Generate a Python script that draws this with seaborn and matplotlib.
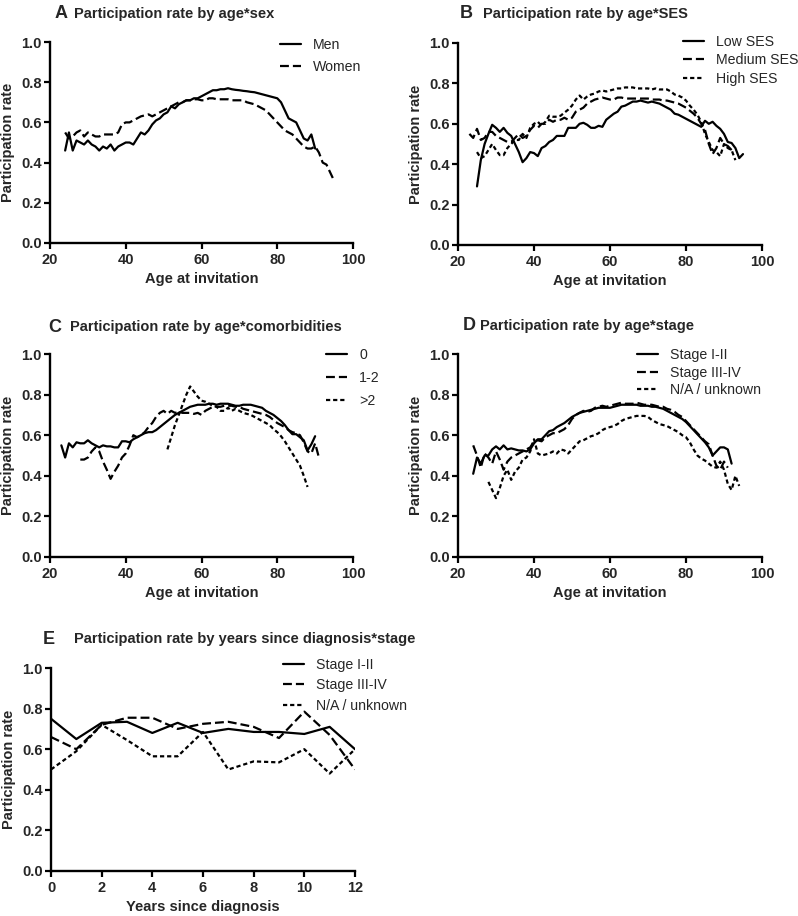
import matplotlib
matplotlib.use('Agg')
import matplotlib.pyplot as plt
import seaborn as sns
import pandas as pd

# Panel A: age * sex
age_men = list(range(24, 91))
rate_men = [0.46, 0.55, 0.46, 0.51, 0.50, 0.49, 0.51, 0.49, 0.48, 0.46, 0.48, 0.47, 0.49, 0.46, 0.48,
            0.49, 0.50, 0.50, 0.49, 0.52, 0.55, 0.54, 0.56, 0.59, 0.61, 0.62, 0.64, 0.65, 0.68, 0.67,
            0.69, 0.70, 0.71, 0.71, 0.72, 0.72, 0.73, 0.74, 0.75, 0.76, 0.76, 0.765, 0.765, 0.77, 0.765,
            0.762, 0.76, 0.757, 0.755, 0.752, 0.75, 0.745, 0.74, 0.735, 0.73, 0.725, 0.72, 0.70, 0.66,
            0.62, 0.61, 0.60, 0.56, 0.52, 0.51, 0.54, 0.47]
age_women = list(range(24, 96))
rate_women = [0.55, 0.52, 0.53, 0.55, 0.56, 0.53, 0.55, 0.54, 0.53, 0.53, 0.54, 0.54, 0.54, 0.54, 0.55,
              0.59, 0.60, 0.60, 0.61, 0.62, 0.63, 0.635, 0.64, 0.63, 0.64, 0.65, 0.66, 0.67, 0.68, 0.69,
              0.70, 0.70, 0.71, 0.71, 0.715, 0.715, 0.71, 0.71, 0.72, 0.72, 0.715, 0.715, 0.715, 0.715,
              0.71, 0.71, 0.71, 0.71, 0.70, 0.695, 0.69, 0.68, 0.67, 0.66, 0.64, 0.62, 0.60, 0.58, 0.56,
              0.55, 0.54, 0.52, 0.50, 0.48, 0.47, 0.47, 0.48, 0.45, 0.40, 0.39, 0.35, 0.31]

# Panel B: age * SES
age_low = list(range(25, 96))
rate_low = [0.29, 0.42, 0.50, 0.55, 0.595, 0.58, 0.56, 0.58, 0.555, 0.54, 0.50, 0.46, 0.41, 0.43, 0.46,
            0.455, 0.44, 0.48, 0.49, 0.51, 0.52, 0.54, 0.54, 0.54, 0.58, 0.58, 0.58, 0.60, 0.605, 0.595,
            0.58, 0.58, 0.59, 0.585, 0.62, 0.635, 0.65, 0.66, 0.685, 0.69, 0.70, 0.71, 0.71, 0.715, 0.71,
            0.705, 0.71, 0.705, 0.70, 0.69, 0.68, 0.67, 0.65, 0.645, 0.635, 0.625, 0.615, 0.605, 0.595,
            0.585, 0.615, 0.60, 0.61, 0.59, 0.575, 0.55, 0.51, 0.505, 0.48, 0.43, 0.45]
age_med = list(range(23, 93))
rate_med = [0.55, 0.53, 0.575, 0.52, 0.53, 0.56, 0.56, 0.54, 0.53, 0.52, 0.51, 0.51, 0.53, 0.55, 0.53,
            0.54, 0.57, 0.59, 0.58, 0.60, 0.60, 0.62, 0.61, 0.62, 0.62, 0.63, 0.62, 0.63, 0.66, 0.67,
            0.68, 0.70, 0.71, 0.72, 0.725, 0.73, 0.725, 0.72, 0.72, 0.73, 0.73, 0.725, 0.725, 0.725,
            0.725, 0.725, 0.725, 0.725, 0.72, 0.72, 0.72, 0.715, 0.715, 0.71, 0.705, 0.70, 0.69, 0.68,
            0.665, 0.65, 0.63, 0.60, 0.57, 0.50, 0.45, 0.48, 0.53, 0.50, 0.49, 0.47]
age_high = list(range(25, 94))
rate_high = [0.46, 0.43, 0.44, 0.47, 0.50, 0.47, 0.445, 0.445, 0.48, 0.50, 0.52, 0.52, 0.55, 0.53, 0.58,
             0.60, 0.61, 0.59, 0.61, 0.64, 0.635, 0.635, 0.64, 0.655, 0.67, 0.69, 0.72, 0.74, 0.72,
             0.735, 0.745, 0.75, 0.76, 0.765, 0.76, 0.765, 0.77, 0.775, 0.775, 0.78, 0.78, 0.78, 0.775,
             0.775, 0.775, 0.775, 0.77, 0.775, 0.77, 0.77, 0.77, 0.76, 0.745, 0.74, 0.73, 0.715, 0.69,
             0.67, 0.645, 0.61, 0.55, 0.51, 0.47, 0.46, 0.44, 0.50, 0.48, 0.47, 0.42]

# Panel C: age * comorbidities
age_c0 = list(range(23, 91))
rate_c0 = [0.55, 0.49, 0.56, 0.54, 0.565, 0.56, 0.56, 0.575, 0.56, 0.55, 0.54, 0.55, 0.545, 0.545, 0.54,
           0.54, 0.57, 0.57, 0.565, 0.58, 0.59, 0.60, 0.61, 0.615, 0.615, 0.625, 0.64, 0.655, 0.67,
           0.685, 0.70, 0.71, 0.72, 0.73, 0.74, 0.745, 0.75, 0.75, 0.75, 0.755, 0.755, 0.75, 0.755,
           0.755, 0.755, 0.75, 0.745, 0.745, 0.75, 0.75, 0.75, 0.745, 0.74, 0.735, 0.72, 0.71, 0.70,
           0.685, 0.67, 0.65, 0.625, 0.605, 0.605, 0.59, 0.575, 0.525, 0.555, 0.595]
age_c12 = list(range(28, 92))
rate_c12 = [0.48, 0.48, 0.49, 0.52, 0.54, 0.52, 0.47, 0.43, 0.385, 0.42, 0.45, 0.49, 0.51, 0.55, 0.60,
            0.59, 0.60, 0.615, 0.64, 0.66, 0.69, 0.71, 0.72, 0.705, 0.72, 0.71, 0.715, 0.71, 0.71, 0.71,
            0.705, 0.71, 0.70, 0.72, 0.73, 0.74, 0.74, 0.74, 0.745, 0.745, 0.745, 0.74, 0.74, 0.73,
            0.725, 0.72, 0.715, 0.71, 0.705, 0.70, 0.69, 0.675, 0.66, 0.65, 0.64, 0.625, 0.615, 0.61,
            0.60, 0.565, 0.52, 0.51, 0.56, 0.49]
age_c3 = list(range(51, 89))
rate_c3 = [0.53, 0.59, 0.65, 0.70, 0.75, 0.80, 0.84, 0.815, 0.79, 0.77, 0.765, 0.755, 0.745, 0.74, 0.72,
           0.72, 0.735, 0.72, 0.73, 0.72, 0.71, 0.705, 0.70, 0.69, 0.68, 0.67, 0.66, 0.65, 0.63, 0.615,
           0.595, 0.57, 0.54, 0.51, 0.48, 0.45, 0.40, 0.345]

# Panel D: age * stage
age_s12 = list(range(24, 93))
rate_s12 = [0.41, 0.49, 0.46, 0.50, 0.50, 0.53, 0.545, 0.53, 0.55, 0.53, 0.535, 0.53, 0.525, 0.525, 0.52,
            0.53, 0.56, 0.58, 0.58, 0.60, 0.62, 0.625, 0.64, 0.65, 0.66, 0.675, 0.69, 0.70, 0.71, 0.715,
            0.72, 0.725, 0.73, 0.735, 0.735, 0.735, 0.735, 0.74, 0.745, 0.75, 0.75, 0.75, 0.75, 0.75,
            0.745, 0.745, 0.745, 0.74, 0.74, 0.735, 0.73, 0.72, 0.71, 0.70, 0.69, 0.68, 0.665, 0.645,
            0.625, 0.605, 0.585, 0.565, 0.54, 0.50, 0.52, 0.54, 0.54, 0.53, 0.46]
age_s34 = list(range(24, 92))
rate_s34 = [0.55, 0.50, 0.44, 0.51, 0.49, 0.46, 0.52, 0.48, 0.43, 0.47, 0.49, 0.50, 0.51, 0.52, 0.53,
            0.54, 0.57, 0.575, 0.57, 0.59, 0.60, 0.61, 0.61, 0.62, 0.63, 0.65, 0.68, 0.70, 0.71, 0.72,
            0.715, 0.72, 0.735, 0.74, 0.745, 0.74, 0.745, 0.75, 0.755, 0.76, 0.755, 0.755, 0.755, 0.76,
            0.755, 0.75, 0.75, 0.75, 0.745, 0.74, 0.74, 0.73, 0.725, 0.715, 0.70, 0.69, 0.67, 0.65,
            0.63, 0.61, 0.59, 0.57, 0.555, 0.50, 0.45, 0.43, 0.47, 0.44]
age_sna = list(range(28, 95))
rate_sna = [0.37, 0.33, 0.29, 0.34, 0.40, 0.43, 0.38, 0.42, 0.44, 0.48, 0.49, 0.52, 0.58, 0.51, 0.50,
            0.505, 0.51, 0.52, 0.51, 0.53, 0.525, 0.51, 0.53, 0.55, 0.57, 0.575, 0.585, 0.595, 0.60,
            0.61, 0.625, 0.635, 0.64, 0.645, 0.655, 0.67, 0.68, 0.685, 0.69, 0.695, 0.695, 0.695, 0.69,
            0.675, 0.665, 0.655, 0.65, 0.645, 0.635, 0.625, 0.615, 0.60, 0.59, 0.565, 0.53, 0.50, 0.485,
            0.475, 0.46, 0.445, 0.44, 0.47, 0.43, 0.36, 0.33, 0.40, 0.35]

# Panel E: years since diagnosis * stage
years = list(range(0, 13))
rate_e12 = [0.75, 0.65, 0.73, 0.735, 0.68, 0.73, 0.68, 0.70, 0.685, 0.685, 0.675, 0.71, 0.60]
rate_e34 = [0.66, 0.60, 0.72, 0.755, 0.755, 0.70, 0.725, 0.735, 0.71, 0.655, 0.785, 0.67, 0.50]
rate_ena = [0.50, 0.59, 0.72, 0.645, 0.565, 0.565, 0.685, 0.50, 0.54, 0.535, 0.60, 0.48, 0.60]

STYLES = {'solid': '-', 'dash': (0, (4, 1.8)), 'dot': (0, (1.9, 1.3))}

sns.set_style('ticks')
plt.rcParams['font.family'] = ['Liberation Sans', 'DejaVu Sans']

W, H = 798, 916
fig = plt.figure(figsize=(W / 100, H / 100), dpi=100)


def make_ax(left, top, right, bottom):
    return fig.add_axes([left / W, 1 - bottom / H, (right - left) / W, (bottom - top) / H])


def draw_panel(ax, series, xlim, xticks, xlabel, letter, title, letter_x, title_x, title_y,
               legend_anchor, spacing):
    for x, y, style, name in series:
        df = pd.DataFrame({'x': x, 'y': y})
        sns.lineplot(data=df, x='x', y='y', ax=ax, color='black', lw=1.6,
                     linestyle=STYLES[style], label=name)
    ax.set_xlim(*xlim)
    ax.set_ylim(0, 1.0)
    ax.set_xticks(xticks)
    ax.set_yticks([0.0, 0.2, 0.4, 0.6, 0.8, 1.0])
    ax.set_yticklabels(['0.0', '0.2', '0.4', '0.6', '0.8', '1.0'])
    for lab in ax.get_xticklabels() + ax.get_yticklabels():
        lab.set_fontweight('bold')
    ax.tick_params(axis='both', labelsize=10.5, width=1.6, length=4, color='black')
    ax.tick_params(axis='x', pad=3)
    ax.tick_params(axis='y', pad=2)
    for s in ['left', 'bottom']:
        ax.spines[s].set_linewidth(1.7)
        ax.spines[s].set_color('black')
    sns.despine(ax=ax)
    ax.set_xlabel(xlabel, fontsize=10.5, fontweight='bold', labelpad=4)
    ax.set_ylabel('Participation rate', fontsize=10.5, fontweight='bold', labelpad=4)
    ax.legend(loc='upper left', bbox_to_anchor=(legend_anchor[0] / W, 1 - legend_anchor[1] / H),
              bbox_transform=fig.transFigure, frameon=False, fontsize=10.2, handlelength=1.45,
              handletextpad=0.9, labelspacing=spacing, borderaxespad=0, borderpad=0)
    fig.text(letter_x / W, 1 - title_y / H, letter, fontsize=13, fontweight='bold', va='center', ha='left')
    fig.text(title_x / W, 1 - title_y / H, title, fontsize=10.5, fontweight='bold', va='center', ha='left')


age_ticks = [20, 40, 60, 80, 100]

axA = make_ax(50, 42, 353, 243)
draw_panel(axA, [(age_men, rate_men, 'solid', 'Men'), (age_women, rate_women, 'dash', 'Women')],
           (20, 100), age_ticks, 'Age at invitation', 'A', 'Participation rate by age*sex',
           55, 74, 14, (280, 38), 0.58)

axB = make_ax(458, 43, 762, 245)
draw_panel(axB, [(age_low, rate_low, 'solid', 'Low SES'), (age_med, rate_med, 'dash', 'Medium SES'),
                 (age_high, rate_high, 'dot', 'High SES')],
           (20, 100), age_ticks, 'Age at invitation', 'B', 'Participation rate by age*SES',
           460, 483, 14, (683, 35), 0.3)

axC = make_ax(50, 354, 353, 557)
draw_panel(axC, [(age_c0, rate_c0, 'solid', '0'), (age_c12, rate_c12, 'dash', '1-2'),
                 (age_c3, rate_c3, 'dot', '>2')],
           (20, 100), age_ticks, 'Age at invitation', 'C', 'Participation rate by age*comorbidities',
           48, 70, 327, (326, 348), 0.62)

axD = make_ax(458, 354, 762, 557)
draw_panel(axD, [(age_s12, rate_s12, 'solid', 'Stage I-II'), (age_s34, rate_s34, 'dash', 'Stage III-IV'),
                 (age_sna, rate_sna, 'dot', 'N/A / unknown')],
           (20, 100), age_ticks, 'Age at invitation', 'D', 'Participation rate by age*stage',
           463, 480, 326, (637, 348), 0.26)

axE = make_ax(51, 668, 355, 871)
draw_panel(axE, [(years, rate_e12, 'solid', 'Stage I-II'), (years, rate_e34, 'dash', 'Stage III-IV'),
                 (years, rate_ena, 'dot', 'N/A / unknown')],
           (0, 12), [0, 2, 4, 6, 8, 10, 12], 'Years since diagnosis', 'E',
           'Participation rate by years since diagnosis*stage',
           43, 74, 639, (283, 658), 0.45)

fig.savefig('out.png', dpi=100, facecolor='white')
